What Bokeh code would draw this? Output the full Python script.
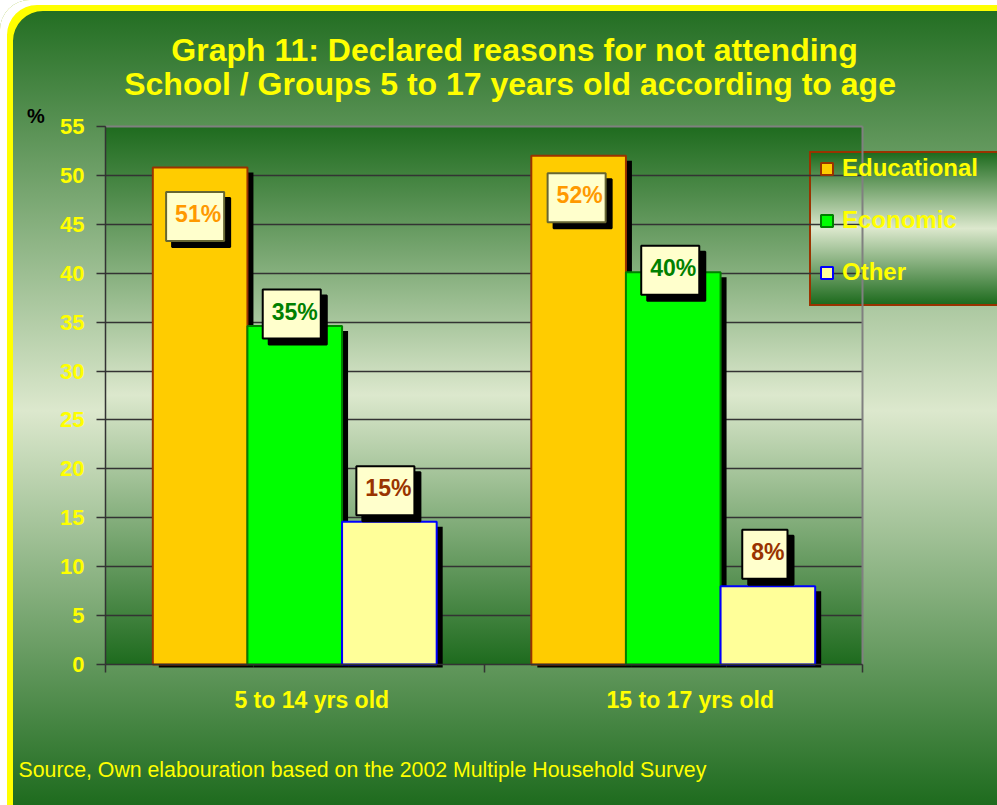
from bokeh.plotting import figure
from bokeh.models import FixedTicker, Label, Grid, Range1d
from bokeh.embed import file_html
from bokeh.resources import INLINE

# ---------------- data ----------------
categories = ["5 to 14 yrs old", "15 to 17 yrs old"]
series_names = ["Educational", "Economic", "Other"]
educational = [50.8, 52.0]
economic = [34.6, 40.1]
other = [14.6, 8.0]
y_ticks = [0, 5, 10, 15, 20, 25, 30, 35, 40, 45, 50, 55]
title_lines = ["Graph 11: Declared reasons for not attending",
               "School /  Groups 5 to 17 years old according to age"]
source_note = "Source, Own elabouration based on the 2002 Multiple Household Survey"
y_unit = "%"

# ---------------- styling / layout ----------------
FONT = "Liberation Sans"
YELLOW = "#FFFF00"
W, H = 997, 805
FL, FT, FR, FB = 105, 126, 862, 664          # chart area in page pixels
X_MAX, Y_MAX = 2, 55
px_x = X_MAX / (FR - FL)
px_y = Y_MAX / (FB - FT)

fills = ["#FFCC00", "#00FF00", "#FFFF99"]
lines = ["#993300", "#008000", "#0000FF"]
label_colors = ["#FF9900", "#008000", "#993300"]
label_borders = ["#666633", "#000000", "#000000"]
label_dy = [[-49, -42], [12, 2], [31, 32]]     # label box centre vs bar top, px (up)
label_dx = [[-5, -2], [-3, -3], [-4, -3]]
bar_w = 0.25
cat_label_shift = 17 * px_x

DARK = "#1E6B1E"
LIGHT = "#DCE8CD"

p = figure(width=W, height=H,
           x_range=Range1d(-FL * px_x, (W - FL) * px_x),
           y_range=Range1d(-(H - FB) * px_y, Y_MAX + FT * px_y),
           output_backend="svg", toolbar_location=None, min_border=0)
p.background_fill_color = None
p.border_fill_color = None
p.outline_line_color = None

p.styles = {
    "background": (
        f"linear-gradient(to bottom, {DARK} 0%, {LIGHT} 50%, {DARK} 100%) 811px 153px / 190px 151px no-repeat, "
        f"linear-gradient(#993300, #993300) 809px 151px / 194px 155px no-repeat, "
        f"linear-gradient(to bottom, {DARK} 0%, {LIGHT} 50%, {DARK} 100%) {FL}px {FT}px / {FR-FL}px {FB-FT}px no-repeat, "
        f"linear-gradient(to bottom, {DARK} 0%, {LIGHT} 51%, {DARK} 100%)"
    ),
    "border-top-left-radius": "30px",
    "box-shadow": "inset 7px 5px 0 0 #FFFFFF, inset 13px 11px 0 0 #FFFF00",
}

# grid lines limited to the chart area
has_cross = "cross_bounds" in Grid.properties()
p.xgrid.visible = False
p.ygrid.visible = False
if has_cross:
    p.add_layout(Grid(dimension=1, ticker=FixedTicker(ticks=y_ticks[1:-1]), cross_bounds=(0, X_MAX),
                      grid_line_color="#333333", grid_line_width=1.5))
    p.add_layout(Grid(dimension=1, ticker=FixedTicker(ticks=[Y_MAX]), cross_bounds=(0, X_MAX),
                      grid_line_color="#808080", grid_line_width=2))
    p.add_layout(Grid(dimension=0, ticker=FixedTicker(ticks=[X_MAX]), cross_bounds=(0, Y_MAX),
                      grid_line_color="#808080", grid_line_width=2))
else:
    gy = y_ticks[1:-1]
    p.segment(x0=[0] * len(gy), x1=[X_MAX] * len(gy), y0=gy, y1=gy, line_color="#333333", line_width=1.5)
    p.segment(x0=[0], x1=[X_MAX], y0=[Y_MAX], y1=[Y_MAX], line_color="#808080", line_width=2)
    p.segment(x0=[X_MAX], x1=[X_MAX], y0=[0], y1=[Y_MAX], line_color="#808080", line_width=2)

series_vals = [educational, economic, other]
centers = [i + 0.5 for i in range(len(categories))]

# shadows first
for i, vals in enumerate(series_vals):
    xs = [c + (i - 1) * bar_w + 6 * px_x for c in centers]
    tops = [v - 5 * px_y for v in vals]
    p.vbar(x=xs, top=tops, bottom=-3 * px_y, width=bar_w, fill_color="black", line_color=None)

# bars
for i, (name, vals) in enumerate(zip(series_names, series_vals)):
    xs = [c + (i - 1) * bar_w for c in centers]
    p.vbar(x=xs, top=vals, bottom=0, width=bar_w, fill_color=fills[i],
           line_color=lines[i], line_width=2, legend_label=name)

# data labels with shadow boxes
for i, vals in enumerate(series_vals):
    for j, v in enumerate(vals):
        xx = centers[j] + (i - 1) * bar_w
        txt = f"{round(v)}%"
        common = dict(x=xx, y=v, text=txt, text_align="center", text_baseline="middle",
                      text_font=FONT, text_font_size="23px", text_font_style="bold",
                      padding=(9, 3, 9, 14), border_line_width=2)
        p.add_layout(Label(x_offset=label_dx[i][j] + 6, y_offset=label_dy[i][j] - 6, text_color="black",
                           background_fill_color="black", border_line_color="black", **common))
        p.add_layout(Label(x_offset=label_dx[i][j], y_offset=label_dy[i][j], text_color=label_colors[i],
                           background_fill_color="#FFFFCC", border_line_color=label_borders[i],
                           **common))

# axes (drawn at the chart-area edges)
p.yaxis.fixed_location = 0
p.yaxis.bounds = (0, Y_MAX)
p.yaxis.ticker = FixedTicker(ticks=y_ticks)
p.yaxis.major_tick_out = 9
p.yaxis.major_tick_in = 0
p.yaxis.minor_tick_line_color = None
p.yaxis.axis_line_color = "#333333"
p.yaxis.axis_line_width = 1.5
p.yaxis.major_tick_line_color = "#333333"
p.yaxis.major_tick_line_width = 1.5
p.yaxis.major_label_text_color = YELLOW
p.yaxis.major_label_text_font = FONT
p.yaxis.major_label_text_font_size = "22px"
p.yaxis.major_label_text_font_style = "bold"
p.yaxis.major_label_standoff = 12

xt = [c + cat_label_shift for c in centers]
p.xaxis.fixed_location = 0
p.xaxis.bounds = (0, X_MAX)
p.xaxis.ticker = FixedTicker(ticks=xt, minor_ticks=[0, 1, 2])
p.xaxis.major_label_overrides = {t: c for t, c in zip(xt, categories)}
p.xaxis.major_tick_out = 0
p.xaxis.major_tick_in = 0
p.xaxis.minor_tick_out = 8
p.xaxis.minor_tick_in = 0
p.xaxis.minor_tick_line_color = "#333333"
p.xaxis.minor_tick_line_width = 1.5
p.xaxis.axis_line_color = "#333333"
p.xaxis.axis_line_width = 1.5
p.xaxis.major_label_text_color = YELLOW
p.xaxis.major_label_text_font = FONT
p.xaxis.major_label_text_font_size = "23px"
p.xaxis.major_label_text_font_style = "bold"
p.xaxis.major_label_standoff = 14

# legend
lg = p.legend[0]
lg.location = (819, H - 286)
lg.background_fill_alpha = 0
lg.border_line_alpha = 0
lg.padding = 0
lg.margin = 0
lg.spacing = 24
lg.label_height = 28
lg.glyph_height = 15
lg.glyph_width = 15
lg.label_standoff = 8
lg.label_text_color = YELLOW
lg.label_text_font = FONT
lg.label_text_font_size = "24px"
lg.label_text_font_style = "bold"

# texts
p.add_layout(Label(x=(35.5 - FL) * px_x, y=(FB - 115) * px_y, text=y_unit,
                   text_align="center", text_baseline="middle", text_color="black",
                   text_font=FONT, text_font_size="20px", text_font_style="bold"))
for line, base in zip(title_lines, [49, 83]):
    p.add_layout(Label(x=(514 - FL) * px_x, y=(FB - base) * px_y, text=line,
                       text_align="center", text_baseline="alphabetic", text_color=YELLOW,
                       text_font=FONT, text_font_size="32px", text_font_style="bold"))
p.add_layout(Label(x=(18 - FL) * px_x, y=(FB - 769) * px_y, text=source_note,
                   text_align="left", text_baseline="alphabetic", text_color=YELLOW,
                   text_font=FONT, text_font_size="21.3px"))

open("out.html", "w").write(file_html(p, INLINE))
